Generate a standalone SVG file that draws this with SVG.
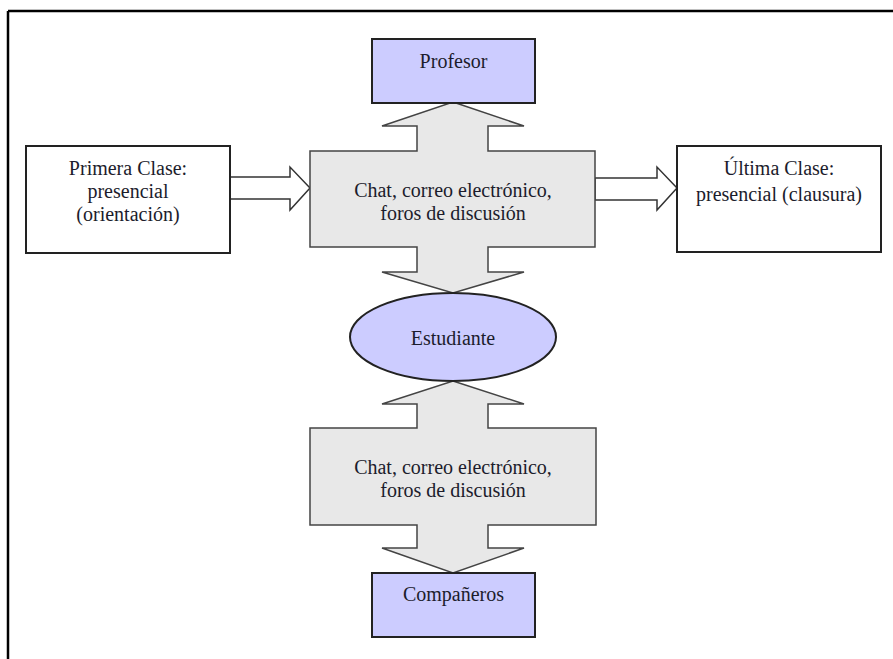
<svg xmlns="http://www.w3.org/2000/svg" width="893" height="659" viewBox="0 0 893 659">
<style>
.frame{stroke:#000;stroke-width:2.5;fill:none}
.box{fill:#fff;stroke:#222;stroke-width:2}
.blue{fill:#ccccff;stroke:#222;stroke-width:2}
.cross{fill:#e8e8e8;stroke:#444;stroke-width:1.5;stroke-linejoin:miter}
.arrow{fill:#fff;stroke:#333;stroke-width:1.5}
.t{font-size:20px;fill:#1c1c2c;text-anchor:middle}
</style>
<rect width="893" height="659" fill="#fff"/>
<g id="frame">
<line class="frame" x1="8" y1="11" x2="893" y2="11"/>
<line class="frame" x1="8" y1="11" x2="8" y2="659"/>
</g>
<g id="connectors">
<polygon class="arrow" points="230,177 290,177 290,167 310,188 290,210 290,199 230,199"/>
<polygon class="arrow" points="595,178 657,178 657,167 677,188 657,210 657,200 595,200"/>
</g>
<g font-family="'Liberation Serif', 'DejaVu Serif', 'Times New Roman', serif">
<g id="cross-upper">
<polygon class="cross" points="453,102 524,126 488,126 488,151 595,151 595,247 488,247 488,272 524,272 453,293 382,272 417,272 417,247 310,247 310,151 417,151 417,126 382,126"/>
<text class="t" x="453" y="197">Chat, correo electrónico,</text>
<text class="t" x="453" y="220">foros de discusión</text>
</g>
<g id="cross-lower">
<polygon class="cross" points="453,381 524,404 488,404 488,428 596,428 596,525 488,525 488,548 524,548 453,573 382,548 417,548 417,525 310,525 310,428 417,428 417,404 382,404"/>
<text class="t" x="453" y="474">Chat, correo electrónico,</text>
<text class="t" x="453" y="497">foros de discusión</text>
</g>
<g id="profesor">
<rect class="blue" x="372" y="39" width="163" height="64"/>
<text class="t" x="453.5" y="68">Profesor</text>
</g>
<g id="estudiante">
<ellipse class="blue" cx="453" cy="337" rx="103" ry="44"/>
<text class="t" x="453" y="345">Estudiante</text>
</g>
<g id="companeros">
<rect class="blue" x="372" y="573" width="163" height="64"/>
<text class="t" x="453.5" y="601">Compañeros</text>
</g>
<g id="primera">
<rect class="box" x="26" y="146" width="204" height="107"/>
<text class="t" x="128" y="175">Primera Clase:</text>
<text class="t" x="128" y="198">presencial</text>
<text class="t" x="128" y="221">(orientación)</text>
</g>
<g id="ultima">
<rect class="box" x="677" y="146" width="204" height="106"/>
<text class="t" x="779" y="175">Última Clase:</text>
<text class="t" x="779" y="201">presencial (clausura)</text>
</g>
</g>
</svg>
